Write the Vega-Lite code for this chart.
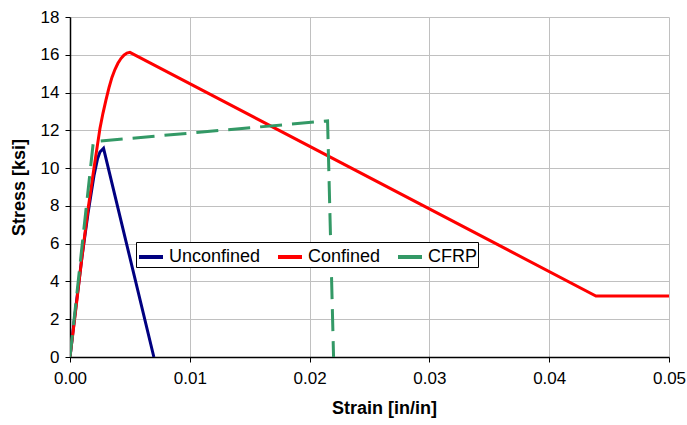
{
  "$schema": "https://vega.github.io/schema/vega-lite/v6.json",
  "autosize": {"type": "none"},
  "width": 599,
  "height": 340,
  "padding": {"left": 70, "top": 17, "right": 18, "bottom": 68},
  "background": "white",
  "config": {
    "font": "Liberation Sans",
    "view": {"stroke": null},
    "axis": {"labelFont": "Liberation Sans", "titleFont": "Liberation Sans", "labelColor": "black", "titleColor": "black"}
  },
  "data": {
    "values": [
      {"series": "Unconfined", "strain": 0.0, "stress": 0.0},
      {"series": "Unconfined", "strain": 0.0005, "stress": 2.7},
      {"series": "Unconfined", "strain": 0.001, "stress": 5.3},
      {"series": "Unconfined", "strain": 0.0015, "stress": 7.6},
      {"series": "Unconfined", "strain": 0.002, "stress": 9.6},
      {"series": "Unconfined", "strain": 0.0023, "stress": 10.5},
      {"series": "Unconfined", "strain": 0.0025, "stress": 10.85},
      {"series": "Unconfined", "strain": 0.0028, "stress": 11.05},
      {"series": "Unconfined", "strain": 0.007, "stress": 0.0},
      {"series": "Confined", "strain": 0.0, "stress": 0.0},
      {"series": "Confined", "strain": 0.0005, "stress": 2.6},
      {"series": "Confined", "strain": 0.001, "stress": 5.3},
      {"series": "Confined", "strain": 0.0015, "stress": 7.8},
      {"series": "Confined", "strain": 0.002, "stress": 10.0},
      {"series": "Confined", "strain": 0.0025, "stress": 12.1},
      {"series": "Confined", "strain": 0.00275, "stress": 12.9},
      {"series": "Confined", "strain": 0.003, "stress": 13.6},
      {"series": "Confined", "strain": 0.00325, "stress": 14.25},
      {"series": "Confined", "strain": 0.0035, "stress": 14.8},
      {"series": "Confined", "strain": 0.00375, "stress": 15.22},
      {"series": "Confined", "strain": 0.004, "stress": 15.55},
      {"series": "Confined", "strain": 0.00425, "stress": 15.8},
      {"series": "Confined", "strain": 0.0045, "stress": 15.98},
      {"series": "Confined", "strain": 0.00475, "stress": 16.09},
      {"series": "Confined", "strain": 0.005, "stress": 16.13},
      {"series": "Confined", "strain": 0.0439, "stress": 3.23},
      {"series": "Confined", "strain": 0.05, "stress": 3.23},
      {"series": "CFRP", "strain": 0.0, "stress": 0.0},
      {"series": "CFRP", "strain": 0.00195, "stress": 11.4},
      {"series": "CFRP", "strain": 0.0215, "stress": 12.5},
      {"series": "CFRP", "strain": 0.022, "stress": 0.0}
    ]
  },
  "encoding": {
    "x": {
      "field": "strain", "type": "quantitative",
      "scale": {"domain": [0, 0.05], "nice": false, "zero": true},
      "axis": {
        "title": "Strain [in/in]", "titleFontSize": 18, "titleFontWeight": "bold",
        "titleX": 314, "titleY": 51, "titleBaseline": "middle",
        "values": [0, 0.01, 0.02, 0.03, 0.04, 0.05], "format": ".2f",
        "labelFontSize": 17, "labelPadding": 8, "labelFlush": false,
        "tickSize": 5, "tickColor": "black", "domainColor": "black", "domainWidth": 1.5,
        "grid": true, "gridColor": "#c0c0c0", "gridWidth": 1
      }
    },
    "y": {
      "field": "stress", "type": "quantitative",
      "scale": {"domain": [0, 18], "nice": false},
      "axis": {
        "title": "Stress [ksi]", "titleFontSize": 18, "titleFontWeight": "bold",
        "titleX": -51, "titleY": 170, "titleAngle": -90, "titleBaseline": "middle", "titleAlign": "center",
        "values": [0, 2, 4, 6, 8, 10, 12, 14, 16, 18],
        "labelFontSize": 17, "labelPadding": 6, "labelFlush": false,
        "tickSize": 5, "tickColor": "black", "domainColor": "black", "domainWidth": 1.5,
        "grid": true, "gridColor": "#c0c0c0", "gridWidth": 1
      }
    },
    "color": {
      "field": "series", "type": "nominal",
      "scale": {"domain": ["Unconfined", "Confined", "CFRP"], "range": ["#000080", "#ff0000", "#339966"]},
      "legend": {
        "title": null, "orient": "none", "legendX": 66, "legendY": 225,
        "direction": "horizontal", "columns": 3,
        "fillColor": "white", "strokeColor": "black",
        "padding": 1, "labelFontSize": 18, "labelFont": "Liberation Sans", "labelColor": "black",
        "symbolType": "stroke", "symbolSize": 576, "symbolStrokeWidth": 4,
        "labelOffset": 4, "columnPadding": 9
      }
    }
  },
  "layer": [
    {
      "transform": [{"filter": "datum.series !== 'CFRP'"}],
      "mark": {"type": "line", "strokeWidth": 3, "clip": true}
    },
    {
      "transform": [{"filter": "datum.series === 'CFRP'"}],
      "mark": {"type": "line", "strokeWidth": 3, "clip": true, "strokeDash": [22, 10]}
    }
  ]
}
